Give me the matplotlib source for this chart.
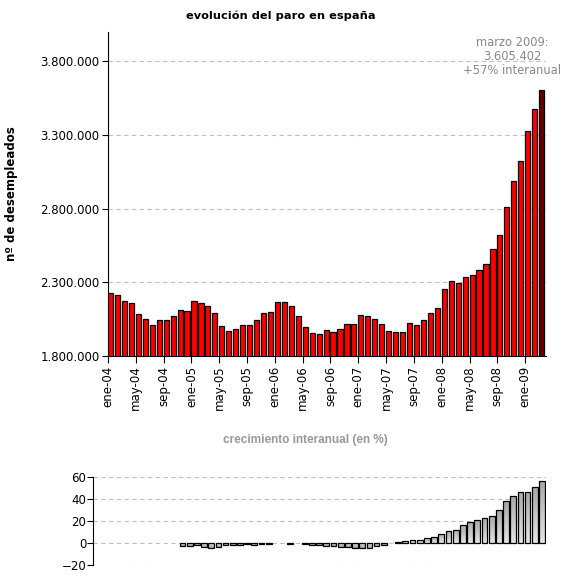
import numpy as np
import matplotlib
matplotlib.use("Agg")
import matplotlib.pyplot as plt
import matplotlib.transforms as mtransforms
from matplotlib.colors import LinearSegmentedColormap
from matplotlib.ticker import FuncFormatter

# paro registrado, miles de personas (ene-04 .. mar-09)
paro_miles = [2227, 2213, 2172, 2158, 2084, 2050, 2009, 2043, 2043, 2070, 2111, 2104,
              2172, 2158, 2138, 2090, 2002, 1968, 1982, 2009, 2009, 2043, 2090, 2097,
              2165, 2165, 2138, 2070, 1995, 1954, 1948, 1975, 1961, 1982, 2016, 2016,
              2077, 2070, 2050, 2016, 1968, 1961, 1961, 2022, 2009, 2043, 2090, 2124,
              2254, 2308, 2295, 2335, 2349, 2383, 2424, 2526, 2621, 2812, 2988, 3124,
              3329, 3478, 3605.402]

# crecimiento interanual (%), sin dato el primer año
nan = np.nan
interanual = [nan, nan, nan, nan, nan, nan, nan, nan, nan, nan, nan, nan,
              -3.1, -3.1, -2.2, -4.0, -4.9, -4.0, -2.2, -2.2, -2.2, -1.0, -2.0, -1.0,
              -1.0, nan, nan, -0.8, nan, -0.8, -2.0, -2.0, -3.0, -3.0, -4.0, -4.0,
              -5.0, -5.0, -5.0, -3.0, -2.0, nan, 0.8, 2.0, 3.0, 3.0, 4.0, 5.0,
              8.5, 11.0, 12.0, 16.0, 19.5, 21.0, 23.0, 25.0, 30.5, 38.0, 42.5, 47.0,
              47.0, 51.0, 56.5]

tick_labels = ["ene-04", "may-04", "sep-04", "ene-05", "may-05", "sep-05",
               "ene-06", "may-06", "sep-06", "ene-07", "may-07", "sep-07",
               "ene-08", "may-08", "sep-08", "ene-09"]

plt.rcParams['font.family'] = ['DejaVu Sans']

paro = np.array(paro_miles) * 1000
n = len(paro)
x = np.arange(n)

fig = plt.figure(figsize=(5.64, 5.79), dpi=100)
ax = fig.add_axes([108 / 564, 1 - 356 / 579, 438 / 564, 324 / 579])
ax2 = fig.add_axes([93.3 / 564, 1 - 564.7 / 579, 453 / 564, 87.4 / 579])

# --- paro ---
colors = ["#ff0000"] * (n - 1) + ["#660000"]
ax.bar(x, paro, width=0.74, align="edge", color=colors, edgecolor="black",
       linewidth=0.9, zorder=3)
ax.set_xlim(0, n)
ax.set_ylim(1800000, 4000000)
ax.set_yticks([1800000, 2300000, 2800000, 3300000, 3800000])
ax.yaxis.set_major_formatter(FuncFormatter(lambda v, p: f"{int(v):,}".replace(",", ".")))
ax.set_xticks(x[::4])
ax.set_xticklabels(tick_labels, rotation=90, fontsize=8.5)
shift = mtransforms.ScaledTranslation(2.5 / 100, 0, fig.dpi_scale_trans)
for lab in ax.get_xticklabels():
    lab.set_transform(lab.get_transform() + shift)
ax.tick_params(axis="y", labelsize=8.5, length=4, pad=2)
ax.tick_params(axis="x", length=5, pad=2)
ax.grid(axis="y", color="#c0c0c0", linestyle=(0, (4, 3)), linewidth=0.8, zorder=0)
for s in ["top", "right"]:
    ax.spines[s].set_visible(False)
ax.set_ylabel("nº de desempleados", fontsize=8.5, fontweight="bold")
ax.yaxis.set_label_coords(-0.205, 0.5)
fig.text(281 / 564, 1 - 16 / 579, "evolución del paro en españa", ha="center",
         va="center", fontsize=8.2, fontweight="bold")
ax.text(512 / 564, 1 - 56 / 579, "marzo 2009:\n3.605.402\n+57% interanual",
        transform=fig.transFigure, ha="center", va="center", fontsize=8.3,
        color="#888888", linespacing=1.1)

# --- crecimiento interanual ---
bars = ax2.bar(x, interanual, width=0.8, align="edge", facecolor="none",
               edgecolor="black", linewidth=0.9, zorder=3)
cmap = LinearSegmentedColormap.from_list("gris", ["#e4e4e4", "#a8a8a8"])
grad = np.linspace(0, 1, 64).reshape(-1, 1)
for rect in bars:
    h = rect.get_height()
    if not np.isfinite(h):
        continue
    x0, y0, w = rect.get_x(), rect.get_y(), rect.get_width()
    im = ax2.imshow(grad, extent=[x0, x0 + w, y0, y0 + h], cmap=cmap,
                    aspect="auto", origin="lower", zorder=2)
    im.set_clip_path(rect)
ax2.set_xlim(0, n)
ax2.set_ylim(-20, 60)
ax2.set_yticks([-20, 0, 20, 40, 60])
ax2.set_xticks([])
ax2.tick_params(axis="y", labelsize=8.5, length=4, pad=1)
ax2.grid(axis="y", color="#c0c0c0", linestyle=(0, (4, 3)), linewidth=0.8, zorder=0)
for s in ["top", "right", "bottom"]:
    ax2.spines[s].set_visible(False)
fig.text(305.5 / 564, 1 - 440 / 579, "crecimiento interanual (en %)", ha="center",
         va="center", fontsize=8.5, fontweight="bold", color="#999999",
         family=["Liberation Sans", "DejaVu Sans"])

fig.savefig("out.png", dpi=100)
